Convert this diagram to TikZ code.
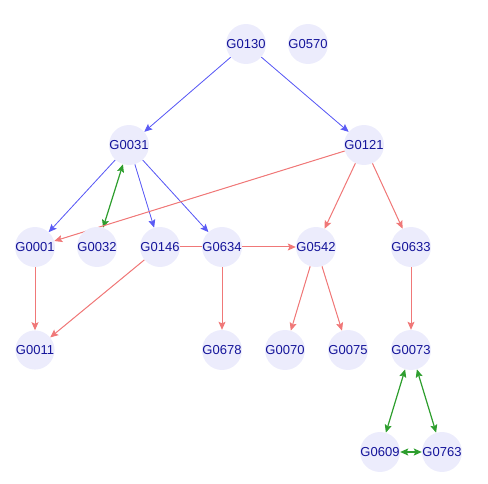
\documentclass[tikz,border=0pt]{standalone}
\usepackage{fontspec}
\setmainfont{Liberation Sans}
\usetikzlibrary{arrows.meta,backgrounds}
\definecolor{nodefill}{HTML}{ECECFC}
\definecolor{labelblue}{HTML}{14149A}
\definecolor{edgeblue}{HTML}{5A5AF5}
\definecolor{edgered}{HTML}{F07878}
\definecolor{edgegreen}{HTML}{2E9E2E}
\tikzset{
  gene/.style={circle, fill=nodefill, minimum size=39pt, inner sep=0pt,
    text=labelblue, font=\fontsize{13}{15}\selectfont},
  tip/.style={-{Stealth[length=8pt,width=7pt,inset=1.5pt]}},
  blueedge/.style={tip, draw=edgeblue, fill=edgeblue, line width=0.8pt},
  rededge/.style={tip, draw=edgered, fill=edgered, line width=1pt},
  greenedge/.style={{Stealth[length=8pt,width=7pt,inset=1.5pt]}-{Stealth[length=8pt,width=7pt,inset=1.5pt]},
    draw=edgegreen, fill=edgegreen, line width=1.2pt},
}
\begin{document}
\begin{tikzpicture}[x=1pt,y=-1pt]
\useasboundingbox (0,0) rectangle (488,484);
% genes
\node[gene] (G0130) at (246,44) {G0130};
\node[gene] (G0570) at (308,44) {G0570};
\node[gene] (G0031) at (129,145) {G0031};
\node[gene] (G0121) at (364,145) {G0121};
\node[gene] (G0001) at (35,247) {G0001};
\node[gene] (G0032) at (97,247) {G0032};
\node[gene] (G0146) at (160,247) {G0146};
\node[gene] (G0634) at (222,247) {G0634};
\node[gene] (G0542) at (316,247) {G0542};
\node[gene] (G0633) at (411,247) {G0633};
\node[gene] (G0011) at (35,350) {G0011};
\node[gene] (G0678) at (222,350) {G0678};
\node[gene] (G0070) at (285,350) {G0070};
\node[gene] (G0075) at (348,350) {G0075};
\node[gene] (G0073) at (411,350) {G0073};
\node[gene] (G0609) at (380,452) {G0609};
\node[gene] (G0763) at (442,452) {G0763};
% interactions, drawn beneath the genes
\begin{pgfonlayer}{background}
\draw[blueedge] (G0130) -- (G0031);
\draw[blueedge] (G0130) -- (G0121);
\draw[blueedge] (G0031) -- (G0001);
\draw[blueedge] (G0031) -- (G0146);
\draw[blueedge] (G0031) -- (G0634);
\draw[greenedge] (G0031) -- (G0032);
\draw[rededge] (G0121) -- (G0001);
\draw[rededge] (G0121) -- (G0542);
\draw[rededge] (G0121) -- (G0633);
\draw[rededge] (G0146.east) -- (G0542.west);
\draw[rededge] (G0146) -- (G0011);
\draw[rededge] (G0001) -- (G0011);
\draw[rededge] (G0634) -- (G0678);
\draw[rededge] (G0542) -- (G0070);
\draw[rededge] (G0542) -- (G0075);
\draw[rededge] (G0633) -- (G0073);
\draw[greenedge] (G0073) -- (G0609);
\draw[greenedge] (G0073) -- (G0763);
\draw[greenedge] (G0609) -- (G0763);
\end{pgfonlayer}
\end{tikzpicture}
\end{document}
